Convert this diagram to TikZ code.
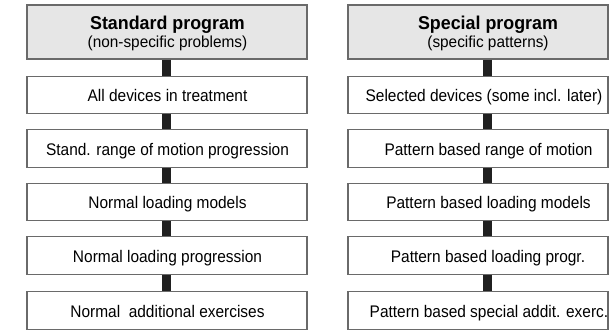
\documentclass[tikz,border=0pt]{standalone}
\usepackage{fontspec}
\setmainfont{Liberation Sans}[FakeStretch=0.92]
\newfontfamily\titlefont{Liberation Sans}[FakeStretch=0.96]
\usetikzlibrary{calc}
\definecolor{bordergray}{HTML}{6A6A6A}
\definecolor{headgray}{HTML}{E6E6E6}
\definecolor{barcol}{HTML}{202020}
\begin{document}
\begin{tikzpicture}[x=1pt,y=1pt,
  box/.style={draw=bordergray, line width=1.2pt, fill=white, minimum height=37.5pt, inner sep=0pt},
  head/.style={draw=bordergray, line width=1.2pt, fill=headgray, minimum height=54pt, inner sep=0pt},
  txt/.style={inner sep=0pt, anchor=base, font=\fontsize{16.8}{18}\selectfont},
  ttl/.style={inner sep=0pt, anchor=base, font=\titlefont\bfseries\fontsize{18.6}{20}\selectfont},
  sub/.style={inner sep=0pt, anchor=base, font=\titlefont\fontsize{16}{18}\selectfont},
  bar/.style={draw=barcol, line width=9pt}]
\useasboundingbox (0,0) rectangle (610,330);
% left column
\node[head, minimum width=280pt] (lh) at (167,298) {};
\node[box, minimum width=280pt] (l1) at (167,235) {};
\node[box, minimum width=280pt] (l2) at (167,181.5) {};
\node[box, minimum width=280pt] (l3) at (167,128) {};
\node[box, minimum width=280pt] (l4) at (167,74.5) {};
\node[box, minimum width=280pt] (l5) at (167,19.5) {};
% right column
\node[head, minimum width=260pt] (rh) at (478,298) {};
\node[box, minimum width=260pt] (r1) at (478,235) {};
\node[box, minimum width=260pt] (r2) at (478,181.5) {};
\node[box, minimum width=260pt] (r3) at (478,128) {};
\node[box, minimum width=260pt] (r4) at (478,74.5) {};
\node[box, minimum width=260pt] (r5) at (478,19.5) {};
% bars
\coordinate (barL) at (166,0);
\coordinate (barR) at (487,0);
\foreach \a/\b in {lh/l1,l1/l2,l2/l3,l3/l4,l4/l5}
  \draw[bar] (\a.south -| barL) -- (\b.north -| barL);
\foreach \a/\b in {rh/r1,r1/r2,r2/r3,r3/r4,r4/r5}
  \draw[bar] (\a.south -| barR) -- (\b.north -| barR);
% texts left
\node[ttl] (lht) at (167.5,300.7) {Standard program};
\node[sub] (lhs) at (167.5,282.7) {(non-specific problems)};
\node[txt] (l1t) at ($(l1.center)+(0.5,-6.7)$) {All devices in treatment};
\node[txt] (l2t) at ($(l2.center)+(0.5,-6.7)$) {Stand. range of motion progression};
\node[txt] (l3t) at ($(l3.center)+(0.5,-6.7)$) {Normal loading models};
\node[txt] (l4t) at ($(l4.center)+(0.5,-6.7)$) {Normal loading progression};
\node[txt] (l5t) at ($(l5.center)+(0.5,-6.7)$) {Normal\ \ additional exercises};
% texts right
\node[ttl] (rht) at (488,300.7) {Special program};
\node[sub] (rhs) at (488,282.7) {(specific patterns)};
\node[txt] (r1t) at ($(r1.center)+(6,-6.7)$) {Selected devices (some incl. later)};
\node[txt] (r2t) at ($(r2.center)+(10.5,-6.7)$) {Pattern based range of motion};
\node[txt] (r3t) at ($(r3.center)+(10.5,-6.7)$) {Pattern based loading models};
\node[txt] (r4t) at ($(r4.center)+(10,-6.7)$) {Pattern based loading progr.};
\node[txt] (r5t) at ($(r5.center)+(11,-6.7)$) {Pattern based special addit. exerc.};
\end{tikzpicture}
\end{document}
